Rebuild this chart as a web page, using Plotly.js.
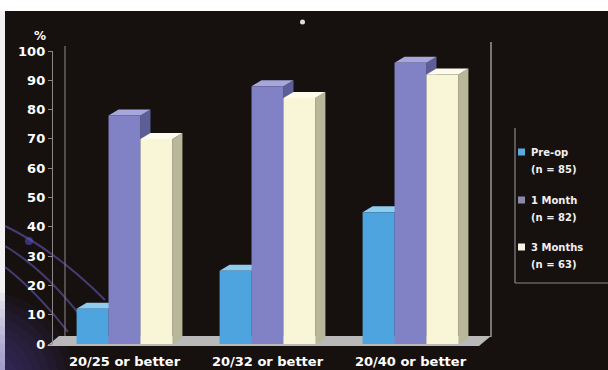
<!DOCTYPE html>
<html>
<head>
<meta charset="utf-8">
<script src="https://cdn.plot.ly/plotly-3.0.1.min.js"></script>
<style>html,body{margin:0;padding:0;background:#16110f;}#chart{width:608px;height:370px;}</style>
</head>
<body>
<div id="chart"></div>
<script>
// ---- data ----
const categories = ["20/25 or better", "20/32 or better", "20/40 or better"];
const seriesNames = ["Pre-op", "1 Month", "3 Months"];
const seriesN = ["(n = 85)", "(n = 82)", "(n = 63)"];
const preOp = [12, 25, 45];
const oneMonth = [78, 88, 96];
const threeMonths = [70, 84, 92];
const yTicks = [0, 10, 20, 30, 40, 50, 60, 70, 80, 90, 100];

// ---- styling ----
const W = 608, H = 370;
const M = {l: 53, r: 126, t: 51, b: 26};
const plotW = W - M.l - M.r, plotH = H - M.t - M.b;
const px = x => (x - M.l) / plotW;
const py = y => (H - M.b - y) / plotH;
const FONT = "DejaVu Sans, Liberation Sans, Arial, sans-serif";

const frontCol = ["#4ea4de", "#8182c6", "#f8f6d6"];
const sideCol  = ["#3479a8", "#5d5e98", "#b9b79a"];
const topCol   = ["#8fcdf0", "#a6a7dc", "#fdfcec"];
const legendCol = ["#5aa8dc", "#8c8aa6", "#f4f2e4"];
const bargap = 0.33;
const barW = (1 - bargap) / 3;
const dx = 10 / (plotW / 3);     // depth in x data units
const dy = 6 / (plotH / 100);    // depth in y data units

const xs = categories.map((c, i) => i);
const allSeries = [preOp, oneMonth, threeMonths];

const traces = allSeries.map((vals, s) => ({
  type: "bar",
  x: xs,
  y: vals,
  name: seriesNames[s] + " " + seriesN[s],
  marker: {color: frontCol[s], line: {width: 0}},
  hoverinfo: "y"
}));

const shapes = [];
// white frame strips
shapes.push({type: "rect", xref: "paper", yref: "paper", x0: px(0), x1: px(608), y0: py(11), y1: py(0), fillcolor: "#ffffff", line: {width: 0}, layer: "below"});
shapes.push({type: "rect", xref: "paper", yref: "paper", x0: px(0), x1: px(5), y0: py(370), y1: py(11), fillcolor: "#f2f2f2", line: {width: 0}, layer: "below"});
// soft purple glow lower-left
for (let k = 0; k < 10; k++) {
  const r = 95 - k * 8;
  shapes.push({type: "circle", xref: "paper", yref: "paper", x0: px(-20 - r), x1: px(-20 + r), y0: py(385 + r), y1: py(385 - r), fillcolor: "rgba(80,65,170,0.07)", line: {width: 0}, layer: "below"});
}
shapes.push({type: "circle", xref: "paper", yref: "paper", x0: px(25), x1: px(33), y0: py(245), y1: py(237), fillcolor: "rgba(90,80,210,0.55)", line: {width: 0}, layer: "below"});
// decorative curves
const curves = [[[5, 226], [55, 250], [105, 300]], [[5, 246], [45, 270], [82, 318]], [[5, 267], [35, 290], [68, 332]]];
curves.forEach(c => {
  const p = c.map(([x, y]) => [px(x).toFixed(4), py(y).toFixed(4)]);
  shapes.push({type: "path", xref: "paper", yref: "paper", path: `M${p[0][0]},${p[0][1]} Q${p[1][0]},${p[1][1]} ${p[2][0]},${p[2][1]}`, line: {color: "rgba(100,90,180,0.6)", width: 2}, layer: "below"});
});
// star
shapes.push({type: "circle", xref: "paper", yref: "paper", x0: px(300), x1: px(305), y0: py(24.5), y1: py(19.5), fillcolor: "#dddddd", line: {width: 0}, layer: "below"});
// back wall lines
shapes.push({type: "line", xref: "paper", yref: "paper", x0: px(65), x1: px(65), y0: py(337), y1: py(46), line: {color: "#7a7876", width: 1.2}, layer: "below"});
shapes.push({type: "line", xref: "paper", yref: "paper", x0: px(491), x1: px(491), y0: py(337), y1: py(42), line: {color: "#9a9896", width: 1.5}, layer: "below"});
// floor
{
  const f = [[47, 346], [479, 346], [491, 336], [59, 336]].map(([x, y]) => [px(x).toFixed(4), py(y).toFixed(4)]);
  shapes.push({type: "path", xref: "paper", yref: "paper", path: `M${f[0][0]},${f[0][1]} L${f[1][0]},${f[1][1]} L${f[2][0]},${f[2][1]} L${f[3][0]},${f[3][1]} Z`, fillcolor: "#b9b9b9", line: {width: 0}, layer: "below"});
}
// 3D side and top faces of bars
allSeries.forEach((vals, s) => {
  vals.forEach((v, i) => {
    const c = xs[i] + (s - 1) * barW;
    const x0 = c - barW / 2, x1 = c + barW / 2;
    shapes.push({type: "path", xref: "x", yref: "y", layer: "below",
      path: `M${x1},0 L${x1 + dx},${dy} L${x1 + dx},${v + dy} L${x1},${v} Z`,
      fillcolor: sideCol[s], line: {width: 0}});
    shapes.push({type: "path", xref: "x", yref: "y", layer: "below",
      path: `M${x0},${v} L${x0 + dx},${v + dy} L${x1 + dx},${v + dy} L${x1},${v} Z`,
      fillcolor: topCol[s], line: {width: 0}});
  });
});
// legend frame
shapes.push({type: "line", xref: "paper", yref: "paper", x0: px(515), x1: px(515), y0: py(283), y1: py(128), line: {color: "#8a8886", width: 1.2}});
shapes.push({type: "line", xref: "paper", yref: "paper", x0: px(515), x1: px(608), y0: py(283), y1: py(283), line: {color: "#8a8886", width: 1.2}});

// legend (drawn as annotations + swatches)
const legendY = [152, 200, 247];
const annotations = [{
  text: "%", xref: "paper", yref: "paper", x: px(32), y: py(27), showarrow: false,
  font: {family: FONT, size: 12, color: "#ffffff", weight: "bold"}
}];
seriesNames.forEach((nm, s) => {
  const y = legendY[s];
  shapes.push({type: "rect", xref: "paper", yref: "paper", x0: px(518), x1: px(525), y0: py(y + 3.5), y1: py(y - 3.5), fillcolor: legendCol[s], line: {width: 0}});
  annotations.push({text: nm, xref: "paper", yref: "paper", x: px(529), y: py(y), xanchor: "left", yanchor: "middle", showarrow: false,
    font: {family: FONT, size: 10, color: "#f0f0f0", weight: "bold"}});
  annotations.push({text: seriesN[s], xref: "paper", yref: "paper", x: px(529), y: py(y + 17), xanchor: "left", yanchor: "middle", showarrow: false,
    font: {family: FONT, size: 10, color: "#f0f0f0", weight: "bold"}});
});

const layout = {
  width: W, height: H,
  margin: M,
  paper_bgcolor: "#16110f",
  plot_bgcolor: "rgba(0,0,0,0)",
  barmode: "group",
  bargap: bargap,
  bargroupgap: 0,
  showlegend: false,
  xaxis: {
    range: [-0.5, 2.5], tickvals: xs, ticktext: categories,
    showgrid: false, zeroline: false, showline: false, ticks: "",
    ticklabelstandoff: 8,
    tickfont: {family: FONT, size: 13, color: "#ffffff", weight: "bold"},
    fixedrange: true
  },
  yaxis: {
    range: [0, 100], tickvals: yTicks, ticktext: yTicks.map(String),
    showgrid: false, zeroline: false, showline: true, linecolor: "#8a8886", linewidth: 1.2,
    ticks: "outside", ticklen: 4, tickcolor: "#8a8886",
    tickfont: {family: FONT, size: 13, color: "#ffffff", weight: "bold"},
    fixedrange: true
  },
  shapes: shapes,
  annotations: annotations
};

Plotly.newPlot("chart", traces, layout, {displayModeBar: false, staticPlot: true});
</script>
</body>
</html>
